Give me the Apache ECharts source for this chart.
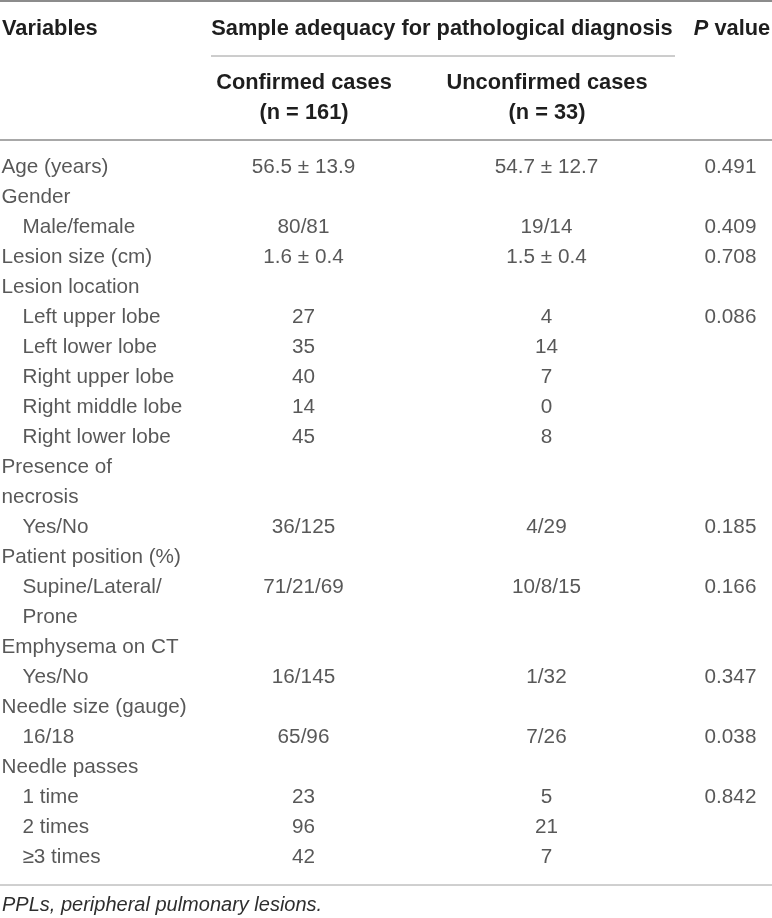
<!DOCTYPE html>
<html>
<head>
<meta charset="utf-8">
<title>Sample adequacy table</title>
<script src="https://cdn.jsdelivr.net/npm/echarts@6/dist/echarts.min.js"></script>
<style>
  html, body { margin: 0; padding: 0; background: #fff; }
  #main { width: 772px; height: 918px; }
</style>
</head>
<body>
<div id="main"></div>
<script>
// table content
var headVariables = 'Variables'
var headSpan = 'Sample adequacy for pathological diagnosis'
var groupNames = ['Confirmed cases', 'Unconfirmed cases']
var groupCounts = ['(n = 161)', '(n = 33)']
var footnote = 'PPLs, peripheral pulmonary lesions.'

var rowLabels = ['Age (years)', 'Gender', 'Male/female', 'Lesion size (cm)', 'Lesion location',
    'Left upper lobe', 'Left lower lobe', 'Right upper lobe', 'Right middle lobe', 'Right lower lobe',
    'Presence of', 'necrosis', 'Yes/No', 'Patient position (%)', 'Supine/Lateral/', 'Prone',
    'Emphysema on CT', 'Yes/No', 'Needle size (gauge)', '16/18', 'Needle passes',
    '1 time', '2 times', '≥3 times']
var rowIndent = [0, 0, 1, 0, 0, 1, 1, 1, 1, 1, 0, 0, 1, 0, 1, 1, 0, 1, 0, 1, 0, 1, 1, 1]
var confirmed = ['56.5 ± 13.9', '', '80/81', '1.6 ± 0.4', '', '27', '35', '40', '14', '45',
    '', '', '36/125', '', '71/21/69', '', '', '16/145', '', '65/96', '', '23', '96', '42']
var unconfirmed = ['54.7 ± 12.7', '', '19/14', '1.5 ± 0.4', '', '4', '14', '7', '0', '8',
    '', '', '4/29', '', '10/8/15', '', '', '1/32', '', '7/26', '', '5', '21', '7']
var pValues = ['0.491', '', '0.409', '0.708', '', '0.086', '', '', '', '',
    '', '', '0.185', '', '0.166', '', '', '0.347', '', '0.038', '', '0.842', '', '']

// layout (column anchors in x-axis units = px)
var colX = { label: 2, indent: 23, conf: 304, unconf: 547, p: 731 }
var bodyFont = 'Liberation Sans, Arial, sans-serif'
var textColor = '#2e2e2e'

var myChart = echarts.init(document.getElementById('main'), null, { renderer: 'canvas' })

var rowIdx = rowLabels.map(function (_, i) { return i })

function textSeries(name, x, values, align) {
    var data = []
    values.forEach(function (v, i) {
        if (v !== '') data.push({ value: [x, i], text: v })
    })
    return {
        name: name,
        type: 'scatter',
        symbolSize: 1,
        itemStyle: { color: 'rgba(0,0,0,0)' },
        silent: true,
        data: data,
        label: {
            show: true,
            position: [0, 0],
            align: align,
            verticalAlign: 'middle',
            fontFamily: bodyFont,
            fontSize: 20.7,
            color: textColor,
            formatter: function (p) { return p.data.text }
        }
    }
}

// row labels: two series, plain and indented
var plainLabels = rowLabels.map(function (l, i) { return rowIndent[i] ? '' : l })
var indentLabels = rowLabels.map(function (l, i) { return rowIndent[i] ? l : '' })

var boldFont = 'bold 21.8px Liberation Sans, Arial, sans-serif'

var option = {
    animation: false,
    backgroundColor: '#fff',
    grid: { left: 0, right: 0, top: 153, height: 720 },
    xAxis: { type: 'value', min: 0, max: 772, show: false },
    yAxis: { type: 'category', data: rowIdx, inverse: true, show: false },
    series: [
        textSeries('labels', colX.label, plainLabels, 'left'),
        textSeries('labelsIndent', colX.indent, indentLabels, 'left'),
        textSeries('confirmed', colX.conf, confirmed, 'center'),
        textSeries('unconfirmed', colX.unconf, unconfirmed, 'center'),
        textSeries('p', colX.p, pValues, 'center')
    ],
    graphic: [
        // rules
        { type: 'line', shape: { x1: 0, y1: 1, x2: 772, y2: 1 }, style: { stroke: '#8c8c8c', lineWidth: 2 } },
        { type: 'line', shape: { x1: 211, y1: 56, x2: 675, y2: 56 }, style: { stroke: '#9a9a9a', lineWidth: 1 } },
        { type: 'line', shape: { x1: 0, y1: 140, x2: 772, y2: 140 }, style: { stroke: '#a8a8a8', lineWidth: 2 } },
        { type: 'line', shape: { x1: 0, y1: 885, x2: 772, y2: 885 }, style: { stroke: '#a0a0a0', lineWidth: 1 } },
        // header
        { type: 'text', x: 2, y: 29, style: { text: headVariables, font: boldFont, fill: '#1e1e1e', align: 'left', verticalAlign: 'middle' } },
        { type: 'text', x: 442, y: 29, style: { text: headSpan, font: boldFont, fill: '#1e1e1e', align: 'center', verticalAlign: 'middle' } },
        {
            type: 'text', x: 732, y: 29,
            style: {
                text: '{i|P} value', font: boldFont, fill: '#1e1e1e', align: 'center', verticalAlign: 'middle',
                rich: { i: { fontStyle: 'italic', fontWeight: 'bold', fontSize: 21.8, fontFamily: 'Liberation Sans, Arial, sans-serif', fill: '#1e1e1e' } }
            }
        },
        { type: 'text', x: colX.conf, y: 83, style: { text: groupNames[0], font: boldFont, fill: '#1e1e1e', align: 'center', verticalAlign: 'middle' } },
        { type: 'text', x: colX.conf, y: 113, style: { text: groupCounts[0], font: boldFont, fill: '#1e1e1e', align: 'center', verticalAlign: 'middle' } },
        { type: 'text', x: colX.unconf, y: 83, style: { text: groupNames[1], font: boldFont, fill: '#1e1e1e', align: 'center', verticalAlign: 'middle' } },
        { type: 'text', x: colX.unconf, y: 113, style: { text: groupCounts[1], font: boldFont, fill: '#1e1e1e', align: 'center', verticalAlign: 'middle' } },
        // footnote
        { type: 'text', x: 2, y: 905, style: { text: footnote, font: 'italic 20px Liberation Sans, Arial, sans-serif', fill: textColor, align: 'left', verticalAlign: 'middle' } }
    ]
}

myChart.setOption(option)
</script>
</body>
</html>
